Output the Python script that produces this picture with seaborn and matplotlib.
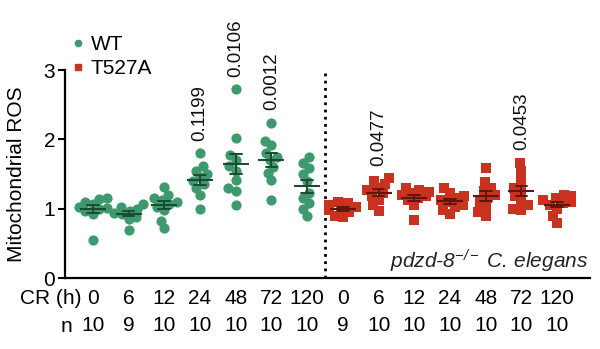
import numpy as np
import pandas as pd
import matplotlib
matplotlib.use("Agg")
import matplotlib.pyplot as plt
import seaborn as sns
from matplotlib.lines import Line2D

# ---------------- data ----------------
hours = ["0", "6", "12", "24", "48", "72", "120"]
genotypes = ["WT", "T527A"]
n_wt = ["10", "9", "10", "10", "10", "10", "10"]
n_t527a = ["9", "10", "10", "10", "10", "10", "10"]

wt_values = [
    [1.16, 1.14, 1.10, 1.07, 1.03, 1.01, 0.99, 0.96, 0.92, 0.55],
    [1.07, 1.03, 1.00, 0.97, 0.94, 0.92, 0.88, 0.85, 0.69],
    [1.31, 1.20, 1.16, 1.12, 1.10, 1.07, 1.03, 0.98, 0.82, 0.72],
    [1.80, 1.62, 1.55, 1.50, 1.45, 1.40, 1.35, 1.30, 1.20, 1.00],
    [2.72, 2.02, 1.78, 1.70, 1.62, 1.55, 1.42, 1.30, 1.25, 1.06],
    [2.24, 1.98, 1.92, 1.80, 1.75, 1.70, 1.60, 1.52, 1.42, 1.12],
    [1.74, 1.66, 1.58, 1.50, 1.40, 1.22, 1.15, 1.08, 1.00, 0.90],
]
t527a_values = [
    [1.10, 1.08, 1.05, 1.02, 1.00, 0.98, 0.95, 0.90, 0.88],
    [1.44, 1.40, 1.35, 1.30, 1.27, 1.22, 1.18, 1.12, 1.05, 0.97],
    [1.30, 1.27, 1.24, 1.22, 1.20, 1.18, 1.15, 1.12, 1.05, 0.84],
    [1.30, 1.22, 1.18, 1.15, 1.12, 1.10, 1.05, 1.02, 0.98, 0.93],
    [1.58, 1.38, 1.30, 1.25, 1.20, 1.15, 1.10, 1.02, 0.95, 0.90],
    [1.66, 1.55, 1.42, 1.30, 1.25, 1.18, 1.12, 1.05, 1.00, 0.98],
    [1.20, 1.18, 1.15, 1.12, 1.10, 1.08, 1.05, 1.00, 0.90, 0.80],
]
# p-value annotations: (genotype, hour, text)
pvalues = [
    ("WT", "24", "0.1199"),
    ("WT", "48", "0.0106"),
    ("WT", "72", "0.0012"),
    ("T527A", "6", "0.0477"),
    ("T527A", "72", "0.0453"),
]

# ---------------- style ----------------
sns.set_theme(style="ticks")
plt.rcParams["font.family"] = ["Liberation Sans", "DejaVu Sans"]
plt.rcParams["mathtext.fontset"] = "custom"
plt.rcParams["mathtext.rm"] = "Liberation Sans:italic"
plt.rcParams["mathtext.it"] = "Liberation Sans:italic"
plt.rcParams["text.color"] = "black"
plt.rcParams["axes.labelcolor"] = "black"
plt.rcParams["xtick.color"] = "black"
plt.rcParams["ytick.color"] = "black"

green = "#3e9a6e"
red = "#c9321f"
dark = {"WT": "#1d4a33", "T527A": "#5e170e"}

rows = []
for g, vals in zip(genotypes, [wt_values, t527a_values]):
    for h, vs in zip(hours, vals):
        for v in vs:
            rows.append({"genotype": g, "hour": h, "cond": f"{g}_{h}", "value": v})
df = pd.DataFrame(rows)
order = [f"{g}_{h}" for g in genotypes for h in hours]

fig = plt.figure(figsize=(6.0, 3.49), dpi=100)
ax = fig.add_axes([65 / 600, 1 - 278 / 349, 525 / 600, 208 / 349])
ax.set_xlim(-0.78, 13.92)
ax.set_ylim(0, 3)

sns.swarmplot(data=df[df.genotype == "WT"], x="cond", y="value", order=order,
              color=green, marker="o", size=5.6, linewidth=0, ax=ax, zorder=2,
              warn_thresh=1)
sns.swarmplot(data=df[df.genotype == "T527A"], x="cond", y="value", order=order,
              color=red, marker="s", size=5.6, linewidth=0, ax=ax, zorder=2,
              warn_thresh=1)
ax.set_xlim(-0.78, 13.92)
ax.set_ylim(0, 3)
# run the swarm layout with the small size, then freeze it and enlarge markers
fig.canvas.draw()
for coll in ax.collections:
    if "draw" in coll.__dict__:
        del coll.__dict__["draw"]
    coll.set_sizes([54])

sns.pointplot(data=df, x="cond", y="value", order=order, hue="genotype",
              palette=dark, errorbar="se", capsize=0.33, linestyle="none",
              marker="_", markersize=19, markeredgewidth=1.5,
              err_kws={"linewidth": 1.4}, dodge=False, legend=False, ax=ax)
for art in ax.lines:
    art.set_zorder(3)

# separator
ax.axvline(len(hours) - 0.5, ymin=0, ymax=1, color="black", linestyle=(0, (1, 1.6)),
           linewidth=2.0, zorder=1)

# p-values
for g, h, txt in pvalues:
    idx = order.index(f"{g}_{h}")
    top = df[(df.genotype == g) & (df.hour == h)].value.max()
    ax.text(idx, top + 0.18, txt, rotation=90, ha="center", va="bottom",
            fontsize=13.5, color="#111111")

ax.set_xlim(-0.78, 13.92)
ax.set_ylim(0, 3)
ax.set_yticks([0, 1, 2, 3])
ax.set_yticklabels(["0", "1", "2", "3"], fontsize=15)
ax.tick_params(axis="y", length=5, width=1.5, pad=2, color="black")
ax.set_xticks(range(len(order)))
ax.set_xticklabels([f"{h}\n{n}" for h, n in zip(hours * 2, n_wt + n_t527a)],
                   fontsize=15, linespacing=1.5)
ax.tick_params(axis="x", length=0, pad=8)
ax.set_xlabel("")
ax.set_ylabel("Mitochondrial ROS", fontsize=15)
ax.yaxis.set_label_coords(-0.075, 0.5)
for s in ["top", "right"]:
    ax.spines[s].set_visible(False)
for s in ["left", "bottom"]:
    ax.spines[s].set_linewidth(1.6)
    ax.spines[s].set_color("black")

fig.text(81 / 600, 1 - 299 / 349, "CR (h)", ha="right", va="center", fontsize=15)
fig.text(72 / 600, 1 - 326 / 349, "n", ha="right", va="center", fontsize=15)

ax.text(0.996, 0.048, r"pdzd-8$^{-/-}$ C. elegans", transform=ax.transAxes,
        ha="right", va="baseline", fontsize=15, fontstyle="italic", color="#222222")

handles = [
    Line2D([], [], marker="o", color=green, linestyle="none", markersize=4.5),
    Line2D([], [], marker="s", color=red, linestyle="none", markersize=5),
]
fig.legend(handles, genotypes, loc="upper left", bbox_to_anchor=(72 / 600, 1 - 35 / 349),
           bbox_transform=fig.transFigure, frameon=False, fontsize=15,
           handlelength=0.6, handletextpad=0.3, labelspacing=0.25, borderpad=0,
           borderaxespad=0)

fig.savefig("out.png", dpi=100)
